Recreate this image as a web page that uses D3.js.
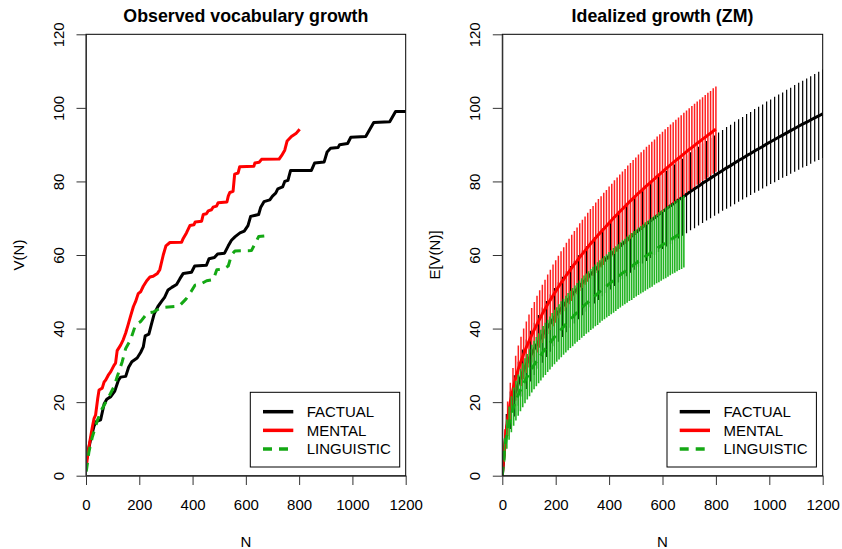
<!DOCTYPE html>
<html><head><meta charset="utf-8">
<script src="https://cdn.jsdelivr.net/npm/d3@7"></script>
<style>body{margin:0;background:#fff}svg{display:block}text{font-family:"Liberation Sans",Arial,Helvetica,sans-serif;fill:#000}</style>
</head><body>
<script>
// ---------- data ----------
const seriesNames = ["FACTUAL", "MENTAL", "LINGUISTIC"];
const xTicks = [0, 200, 400, 600, 800, 1000, 1200];
const yTicks = [0, 20, 40, 60, 80, 100, 120];

// observed vocabulary growth curves (N, V(N))
const obsFactualN = [2,17,30,40,55,68,78,93,108,122,130,149,160,172,192,205,215,222,236,245,256,270,285,295,308,322,340,352,365,396,408,452,462,482,494,520,534,546,560,578,594,608,618,648,656,668,690,700,712,720,738,746,758,768,846,858,894,905,918,946,952,982,994,1050,1080,1140,1162,1200];
const obsFactualV = [4.5,9.7,13.5,14.8,15.2,19.5,20.8,21.5,23,26,26.8,27,29.5,31,32,33.5,35,38,38.5,41,44,46,47.5,48.5,50.5,51.2,52,53.5,55,55.3,57,57.2,59,59.3,60.3,60.5,62.5,64,65,66,66.5,68,70.5,71,73,74.5,75,76,76.8,78,78.5,80,80.3,83,83,85,85.3,88,89,89.2,90,90.3,92,92.2,96,96.2,99,99];
const obsMentalN = [1,11,24,30,36,44,49,61,68,74,85,93,105,111,117,130,140,149,158,167,178,186,196,205,215,228,240,252,268,277,290,300,315,359,365,377,390,405,410,434,440,452,459,471,477,490,496,529,534,540,552,558,571,577,630,634,650,659,725,734,746,755,771,788,802];
const obsMentalV = [2.5,7.9,13.3,15.5,16.5,21,23.3,23.8,25.5,26,27.5,28.3,30,30.6,34,35.5,37,38.8,41,43.3,46,47.3,49.5,50,51.5,53,54,54.2,55,56,60,62.5,63.4,63.5,64.5,66,68,68.2,69,69.2,71,71.2,72,72.3,73,73.3,74.2,74.4,76,77,77.3,82,82.3,84,84.1,85,85.2,86,86.1,87,88.5,91,92.2,93,94.2];
const obsLinguisticN = [1,11,24,43,61,86,105,117,136,149,167,186,205,230,253,277,296,334,352,375,394,409,428,453,478,491,516,534,546,559,621,634,648,674];
const obsLinguisticV = [1.1,6.5,10.6,15.1,18.3,21.5,24.2,26.9,31,34.6,36.9,41,41.9,44.2,44.5,45.5,45.8,46,46.3,48,50,51.8,52,53,53.3,56,56.2,57,60,61.1,61.2,63,65,65.2];

// idealized (ZM) expected growth E[V(N)] and half-width of the confidence interval, sampled every step tokens
const idealFactualStep = 15, idealMentalStep = 10, idealLinguisticStep = 8.5;
const idealFactualV = [0,12.5,17.8,21.7,25.0,27.9,30.3,32.5,34.5,36.4,38.2,39.9,41.5,43.1,44.5,45.9,47.3,48.6,49.9,51.2,52.4,53.5,54.7,55.8,56.9,58.0,59.0,60.0,61.0,62.0,63.0,63.9,64.9,65.8,66.7,67.6,68.4,69.3,70.1,71.0,71.8,72.6,73.4,74.2,75.0,75.7,76.5,77.3,78.0,78.7,79.5,80.2,80.9,81.6,82.3,83.0,83.7,84.3,85.0,85.7,86.3,87.0,87.6,88.3,88.9,89.5,90.2,90.8,91.4,92.0,92.6,93.2,93.8,94.4,95.0,95.6,96.1,96.7,97.3,97.8,98.4];
const idealFactualCI = [0,4.3,5.1,5.6,6.0,6.4,6.7,6.9,7.1,7.3,7.5,7.6,7.8,7.9,8.1,8.2,8.3,8.4,8.5,8.7,8.8,8.9,8.9,9.0,9.1,9.2,9.3,9.4,9.4,9.5,9.6,9.7,9.7,9.8,9.9,9.9,10.0,10.1,10.1,10.2,10.2,10.3,10.4,10.4,10.5,10.5,10.6,10.6,10.7,10.7,10.8,10.8,10.9,10.9,11.0,11.0,11.1,11.1,11.2,11.2,11.2,11.3,11.3,11.4,11.4,11.4,11.5,11.5,11.6,11.6,11.6,11.7,11.7,11.8,11.8,11.8,11.9,11.9,11.9,12.0,12.0];
const idealMentalV = [0,9.0,15.5,20.0,23.5,26.5,29.0,31.1,33.1,34.9,36.6,38.2,39.7,41.2,42.6,44.0,45.3,46.6,47.8,49.0,50.1,51.3,52.4,53.4,54.5,55.5,56.5,57.5,58.4,59.4,60.3,61.2,62.1,63.0,63.8,64.7,65.5,66.3,67.1,67.9,68.7,69.5,70.3,71.0,71.8,72.5,73.2,74.0,74.7,75.4,76.1,76.8,77.4,78.1,78.8,79.4,80.1,80.7,81.4,82.0,82.6,83.3,83.9,84.5,85.1,85.7,86.3,86.9,87.5,88.1,88.7,89.2,89.8,90.4,90.9,91.5,92.0,92.6,93.1,93.7,94.2];
const idealMentalCI = [0,3.6,4.7,5.3,5.8,6.1,6.4,6.7,6.9,7.0,7.2,7.4,7.5,7.7,7.8,7.9,8.0,8.1,8.2,8.4,8.5,8.5,8.6,8.7,8.8,8.9,9.0,9.0,9.1,9.2,9.3,9.3,9.4,9.5,9.5,9.6,9.7,9.7,9.8,9.8,9.9,9.9,10.0,10.1,10.1,10.2,10.2,10.3,10.3,10.4,10.4,10.5,10.5,10.5,10.6,10.6,10.7,10.7,10.8,10.8,10.9,10.9,10.9,11.0,11.0,11.1,11.1,11.1,11.2,11.2,11.2,11.3,11.3,11.3,11.4,11.4,11.5,11.5,11.5,11.6,11.6];
const idealLinguisticV = [0,7.0,11.3,14.3,16.7,18.8,20.4,21.9,23.3,24.6,25.8,26.9,28.0,29.1,30.1,31.0,31.9,32.8,33.7,34.5,35.3,36.1,36.9,37.7,38.4,39.1,39.8,40.5,41.2,41.9,42.5,43.1,43.8,44.4,45.0,45.6,46.2,46.8,47.3,47.9,48.4,49.0,49.5,50.1,50.6,51.1,51.6,52.1,52.6,53.1,53.6,54.1,54.6,55.1,55.5,56.0,56.5,56.9,57.4,57.8,58.3,58.7,59.1,59.6,60.0,60.4,60.8,61.3,61.7,62.1,62.5,62.9,63.3,63.7,64.1,64.5,64.9,65.3,65.6,66.0,66.4];
const idealLinguisticCI = [0,3.2,4.0,4.5,4.9,5.2,5.4,5.6,5.8,6.0,6.1,6.2,6.4,6.5,6.6,6.7,6.8,6.9,7.0,7.1,7.1,7.2,7.3,7.4,7.4,7.5,7.6,7.6,7.7,7.8,7.8,7.9,7.9,8.0,8.1,8.1,8.2,8.2,8.3,8.3,8.4,8.4,8.5,8.5,8.5,8.6,8.6,8.7,8.7,8.8,8.8,8.8,8.9,8.9,8.9,9.0,9.0,9.1,9.1,9.1,9.2,9.2,9.2,9.3,9.3,9.3,9.4,9.4,9.4,9.5,9.5,9.5,9.6,9.6,9.6,9.6,9.7,9.7,9.7,9.8,9.8];

// ---------- drawing ----------
const colors = ["#000000", "#ff0000", "#14a814"];
const barColors = ["#000000", "#ff2020", "#22b422"];
const barWidths = [1.2, 1.5, 1.6];
const dashes = [null, null, "9,7"];
const W = 842, H = 549;
const svg = d3.select("body").append("svg").attr("width", W).attr("height", H);
const plotTop = 34.3, plotBottom = 475.7;
const panels = [
  {left: 86, right: 405.7, title: "Observed vocabulary growth", ylab: "V(N)", legendX: 250.3},
  {left: 502.3, right: 822.7, title: "Idealized growth (ZM)", ylab: "E[V(N)]", legendX: 667}
];

const observed = [
  obsFactualN.map((n, i) => [n, obsFactualV[i]]),
  obsMentalN.map((n, i) => [n, obsMentalV[i]]),
  obsLinguisticN.map((n, i) => [n, obsLinguisticV[i]])
];
const idealSteps = [idealFactualStep, idealMentalStep, idealLinguisticStep];
const idealV = [idealFactualV, idealMentalV, idealLinguisticV];
const idealCI = [idealFactualCI, idealMentalCI, idealLinguisticCI];
const ideal = idealV.map((vs, s) => vs.map((v, k) => ({n: k * idealSteps[s], v: v, ci: idealCI[s][k]})));

panels.forEach((p, pi) => {
  const x = d3.scaleLinear().domain([0, 1200]).range([p.left, p.right]);
  const y = d3.scaleLinear().domain([0, 120]).range([plotBottom, plotTop]);
  const g = svg.append("g");
  const clipId = "clip" + pi;
  svg.append("clipPath").attr("id", clipId).append("rect")
    .attr("x", p.left).attr("y", plotTop).attr("width", p.right - p.left).attr("height", plotBottom - plotTop);
  const plot = g.append("g").attr("clip-path", `url(#${clipId})`);
  const line = d3.line().x(d => x(d[0])).y(d => y(d[1]));

  if (pi === 0) {
    observed.forEach((pts, s) => {
      plot.append("path").attr("d", line(pts)).attr("fill", "none")
        .attr("stroke", colors[s]).attr("stroke-width", 3)
        .attr("stroke-dasharray", dashes[s]).attr("stroke-linejoin", "round");
    });
  } else {
    ideal.forEach((pts, s) => {
      plot.append("g").selectAll("line").data(pts.filter(d => d.ci > 0)).join("line")
        .attr("x1", d => x(d.n)).attr("x2", d => x(d.n))
        .attr("y1", d => y(d.v - d.ci)).attr("y2", d => y(d.v + d.ci))
        .attr("stroke", barColors[s]).attr("stroke-width", barWidths[s]);
      plot.append("path").attr("d", line(pts.map(d => [d.n, d.v]))).attr("fill", "none")
        .attr("stroke", colors[s]).attr("stroke-width", 3)
        .attr("stroke-dasharray", dashes[s]).attr("stroke-linejoin", "round");
    });
  }

  // box
  g.append("rect").attr("x", p.left).attr("y", plotTop)
    .attr("width", p.right - p.left).attr("height", plotBottom - plotTop)
    .attr("fill", "none").attr("stroke", "#000").attr("stroke-width", 1);

  // axes
  const xa = g.append("g").attr("transform", `translate(0,${plotBottom})`)
    .call(d3.axisBottom(x).tickValues(xTicks).tickFormat(d3.format("d")).tickSize(9.3).tickSizeOuter(0).tickPadding(14.3));
  const ya = g.append("g").attr("transform", `translate(${p.left},0)`)
    .call(d3.axisLeft(y).tickValues(yTicks).tickSize(9.5).tickSizeOuter(0));
  [xa, ya].forEach(a => {
    a.select(".domain").attr("stroke", "#333");
    a.selectAll(".tick line").attr("stroke", "#333");
    a.selectAll("text").style("font-size", "15px").attr("fill", "#000").style("font-family", '"Liberation Sans",Arial,sans-serif');
  });
  ya.selectAll(".tick text").attr("x", null).attr("dy", null)
    .attr("text-anchor", "middle").attr("transform", "translate(-22.5,0) rotate(-90)");

  // titles and labels
  g.append("text").attr("x", (p.left + p.right) / 2).attr("y", 21.8).attr("text-anchor", "middle")
    .style("font-size", "17.8px").style("font-weight", "bold").text(p.title);
  g.append("text").attr("x", (p.left + p.right) / 2).attr("y", 546.5).attr("text-anchor", "middle")
    .style("font-size", "15px").text("N");
  g.append("text").attr("transform", `translate(${p.left - 62},${(plotTop + plotBottom) / 2}) rotate(-90)`)
    .attr("text-anchor", "middle").style("font-size", "15px").text(p.ylab);

  // legend
  const lx = p.legendX, lw = 149.4, ly = 392.3, lh = 74.7;
  const lg = g.append("g");
  lg.append("rect").attr("x", lx).attr("y", ly).attr("width", lw).attr("height", lh)
    .attr("fill", "#fff").attr("stroke", "#000").attr("stroke-width", 1);
  seriesNames.forEach((name, s) => {
    const ry = 411.7 + s * 18.65;
    lg.append("line").attr("x1", lx + 12.7).attr("x2", lx + 43).attr("y1", ry).attr("y2", ry)
      .attr("stroke", colors[s]).attr("stroke-width", 3.5).attr("stroke-dasharray", dashes[s]);
    lg.append("text").attr("x", lx + 56.4).attr("y", ry + 5.4).style("font-size", "15px").text(name);
  });
});
</script>
</body></html>
